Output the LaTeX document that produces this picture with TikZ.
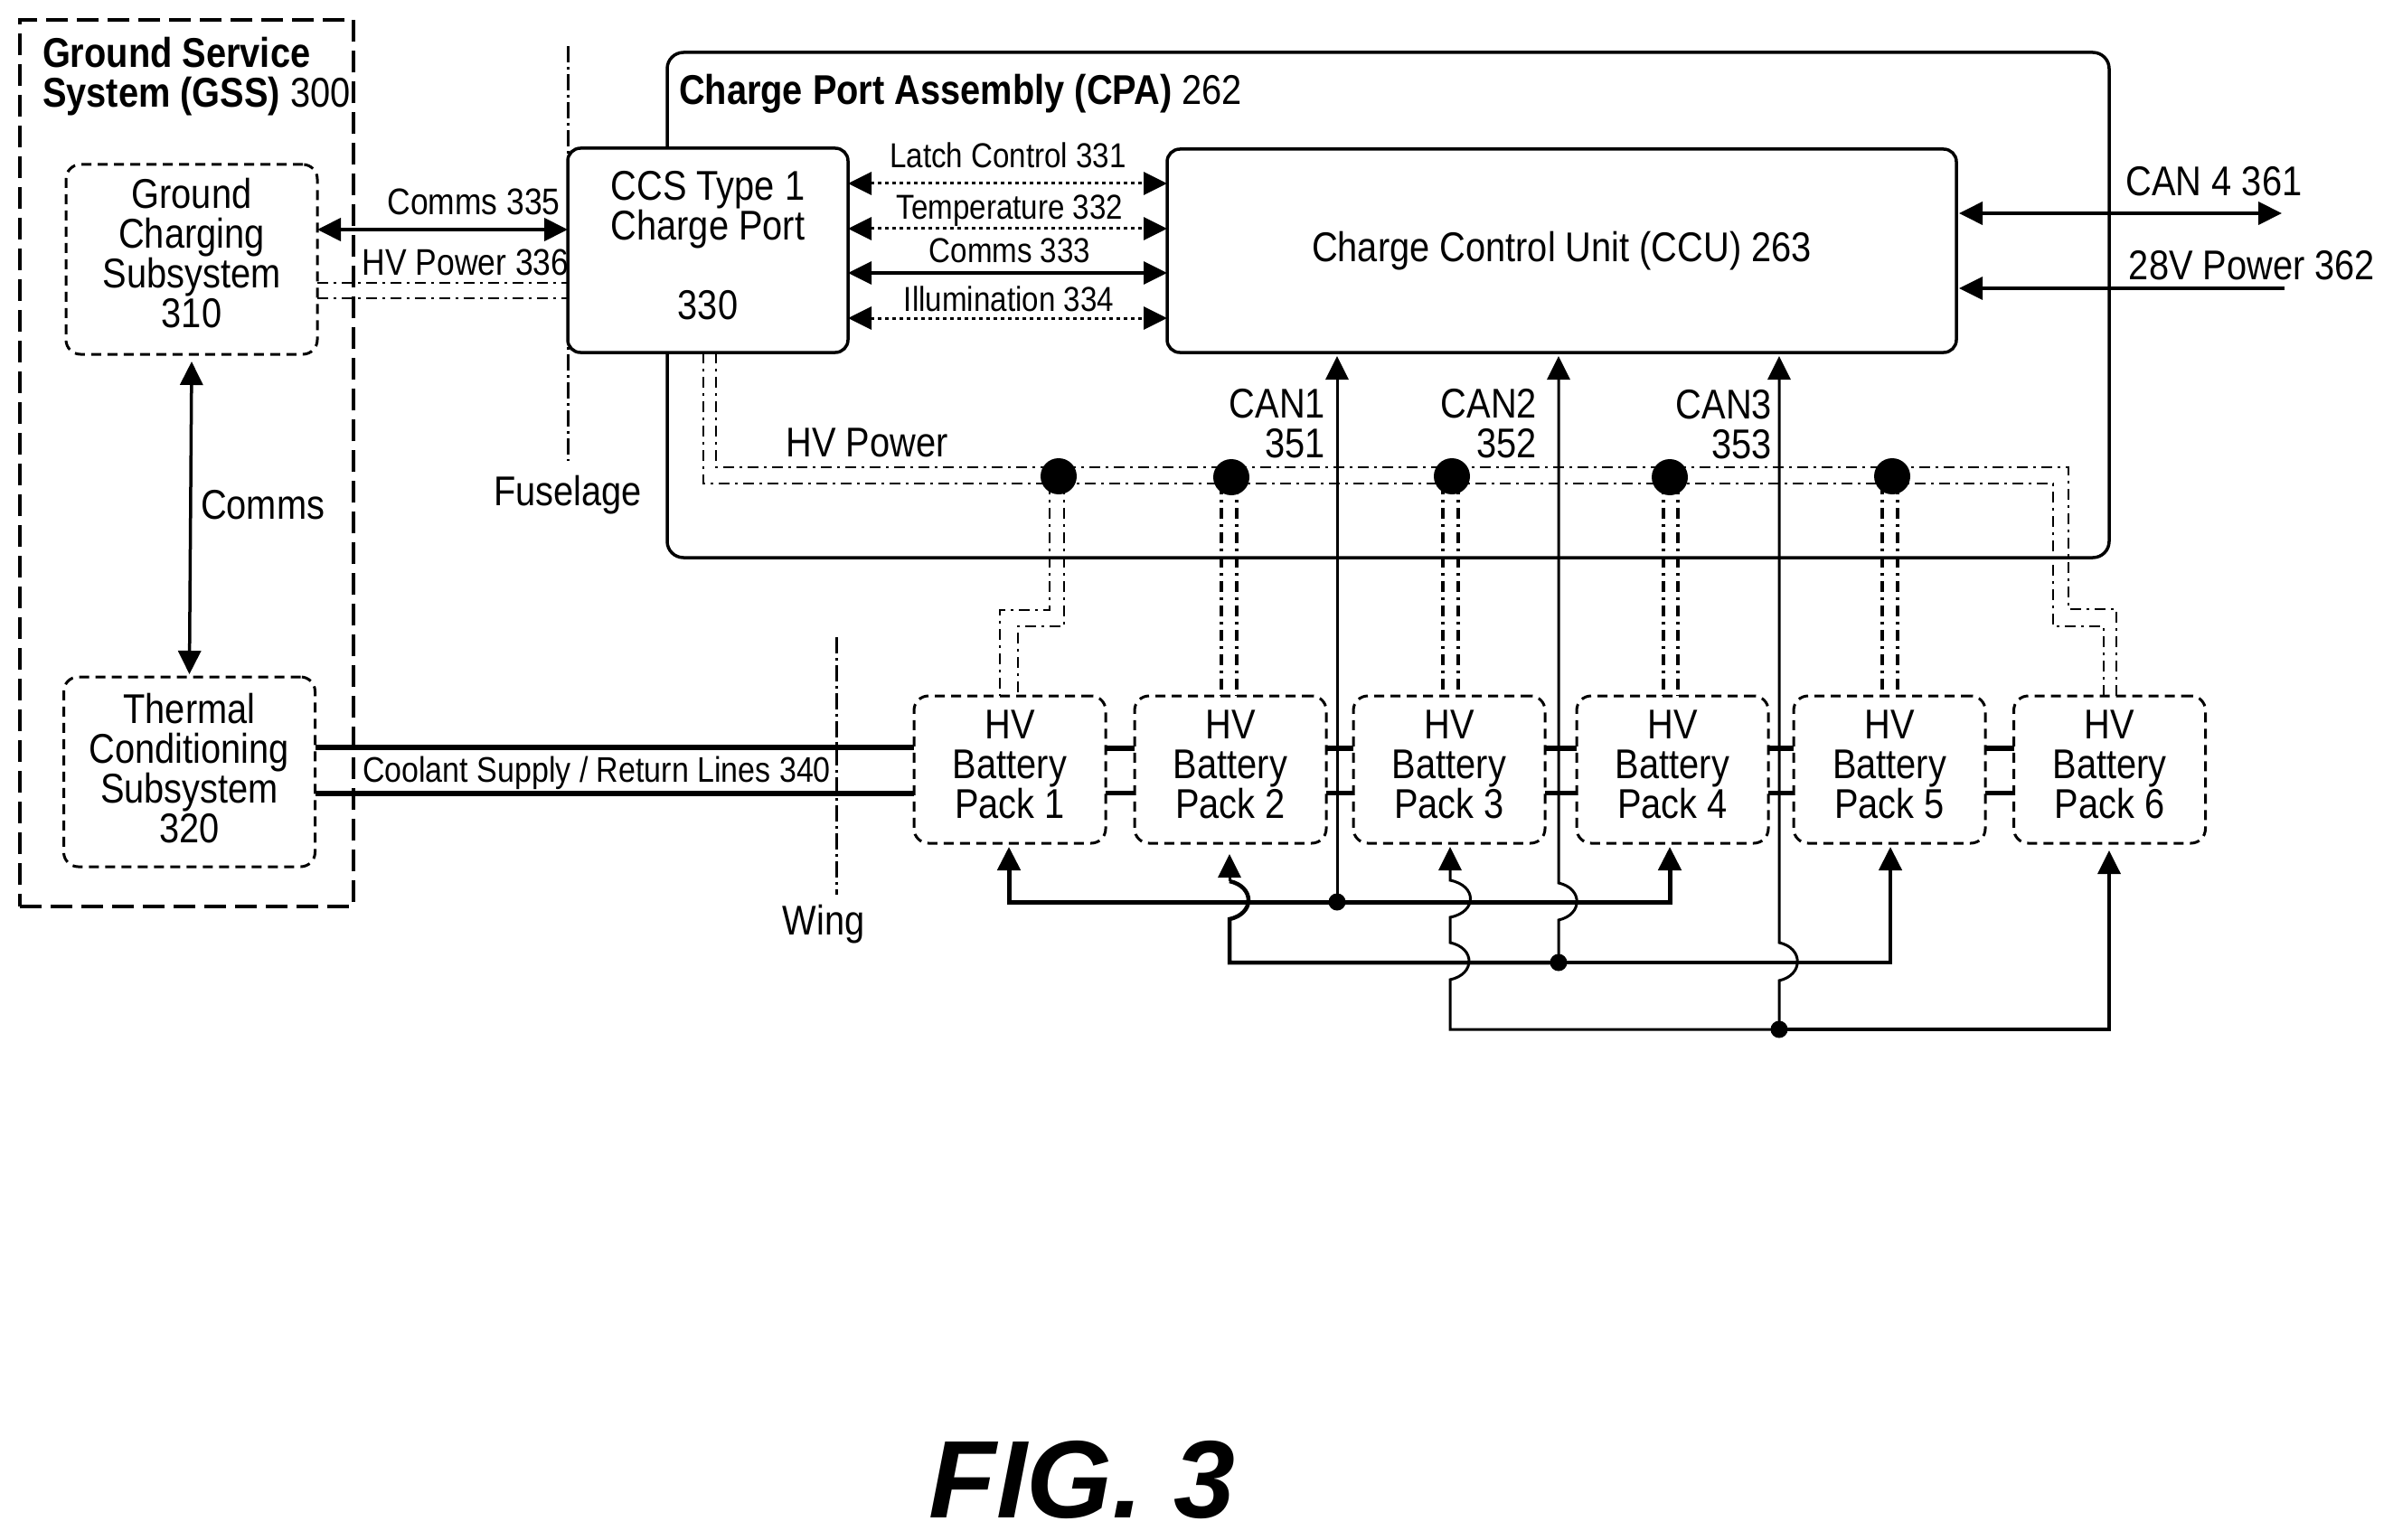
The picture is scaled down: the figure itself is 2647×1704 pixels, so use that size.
\documentclass[tikz,border=0pt]{standalone}
\usepackage{fontspec}
\setmainfont[FakeStretch=0.865]{Liberation Sans}
\newfontfamily\figfont{Liberation Sans}
\usetikzlibrary{arrows.meta,calc}
\tikzset{
 x=1pt,y=-1pt,
 every node/.style={inner sep=0pt,outer sep=0pt,align=center},
 main/.style={font=\fontsize{46}{44}\selectfont},
 small/.style={font=\fontsize{38.3}{40}\selectfont},
 mid/.style={font=\fontsize{41}{44}\selectfont},
 solidbox/.style={draw,line width=3.5pt,rounded corners=14pt,fill=white,main},
 dashbox/.style={draw,line width=3pt,rounded corners=16pt,dash pattern=on 11pt off 7pt,main},
 pack/.style={dashbox,minimum width=212pt,minimum height=163pt,text depth=12pt},
 dbl/.style={line width=4pt,{Triangle[length=26pt,width=25pt]}-{Triangle[length=26pt,width=25pt]}},
 dotarrow/.style={line width=3pt,dash pattern=on 4pt off 4pt,{Triangle[length=26pt,width=25pt]}-{Triangle[length=26pt,width=25pt]}},
 one/.style={line width=3.5pt,-{Triangle[length=26pt,width=25pt]}},
 power/.style={line width=2.8pt,dash pattern=on 12pt off 6pt on 3pt off 6pt},
 drop/.style={line width=3.5pt,dash pattern=on 12pt off 6pt on 3pt off 6pt},
 cut/.style={line width=3pt,dash pattern=on 18pt off 5pt on 3pt off 5pt},
 link/.style={line width=5.5pt},
 bigdot/.style={circle,fill=black,minimum size=40pt},
 smalldot/.style={circle,fill=black,minimum size=19pt},
}
\begin{document}
\begin{tikzpicture}
\useasboundingbox (0,0) rectangle (2647,1704);
% containers
\node[draw,line width=4pt,dash pattern=on 24pt off 10pt,minimum width=369pt,minimum height=981pt] (gss) at (206.5,512.5) {};
\node[draw,line width=3.5pt,rounded corners=18pt,minimum width=1595pt,minimum height=559pt] (cpa) at (1535.5,337.5) {};
\node[anchor=west,font=\fontsize{46}{44}\selectfont,align=left] (gsstitle) at (47,85) {\textbf{Ground Service}\\\textbf{System (GSS)} 300};
\node[anchor=west,main] (cpatitle) at (751,104) {\textbf{Charge Port Assembly (CPA)} 262};
% cut lines
\coordinate (futop) at (628,51);
\coordinate (fubot) at (628,510);
\coordinate (wtop) at (925,705);
\coordinate (wbot) at (925,990);
\draw[cut] (futop) -- (fubot);
\draw[cut] (wtop) -- (wbot);
\node[main] (fuselage) at (628,548) {Fuselage};
\node[main] (wing) at (911,1023) {Wing};
% boxes
\node[dashbox,minimum width=278pt,minimum height=210pt,text depth=14pt] (gcs) at (212,287) {Ground\\Charging\\Subsystem\\310};
\node[dashbox,minimum width=278pt,minimum height=210pt,text depth=9pt] (tcs) at (209.5,854) {Thermal\\Conditioning\\Subsystem\\320};
\node[solidbox,minimum width=310pt,minimum height=226pt,text depth=12pt] (ccs) at (783,277) {CCS Type 1\\Charge Port\\[44pt]330};
\node[solidbox,minimum width=873pt,minimum height=225pt] (ccu) at (1727.5,277.5) {Charge Control Unit (CCU) 263};
\node[pack] (p1) at (1117,851.5) {HV\\Battery\\Pack 1};
\node[pack] (p2) at (1361,851.5) {HV\\Battery\\Pack 2};
\node[pack] (p3) at (1603,851.5) {HV\\Battery\\Pack 3};
\node[pack] (p4) at (1850,851.5) {HV\\Battery\\Pack 4};
\node[pack] (p5) at (2090,851.5) {HV\\Battery\\Pack 5};
\node[pack] (p6) at (2333.5,851.5) {HV\\Battery\\Pack 6};
% ground links
\draw[dbl] (gcs.east |- 0,254) -- (ccs.west |- 0,254);
\node[mid] (l335) at (524,223) {Comms 335};
\draw[power] (gcs.east |- 0,313) -- (ccs.west |- 0,313);
\draw[power] (gcs.east |- 0,330) -- (ccs.west |- 0,330);
\node[mid] (l336) at (515,290) {HV Power 336};
\draw[dbl,line width=3.5pt] ($(gcs.south)+(0,8)$) -- ($(tcs.north)+(0,-3)$);
\node[main,anchor=west] (lcomms) at (222,559) {Comms};
\draw[link] (tcs.east |- 0,827) -- (p1.west |- 0,827);
\draw[link] (tcs.east |- 0,878) -- (p1.west |- 0,878);
\node[font=\fontsize{39.3}{44}\selectfont] (l340) at (660,855) {Coolant Supply / Return Lines 340};
% CCS-CCU
\draw[dotarrow] (ccs.east |- 0,203) -- (ccu.west |- 0,203);
\draw[dotarrow] (ccs.east |- 0,253) -- (ccu.west |- 0,253);
\draw[dbl,line width=3.5pt] (ccs.east |- 0,302) -- (ccu.west |- 0,302);
\draw[dotarrow] (ccs.east |- 0,352) -- (ccu.west |- 0,352);
\node[small] (l331) at (1115,172) {Latch Control 331};
\node[small] (l332) at (1117,233) {Temperature 332};
\node[small] (l333) at (1117,277) {Comms 333};
\node[small] (l334) at (1116,331) {Illumination 334};
% external
\coordinate (can4end) at (2524,236);
\coordinate (v28end) at (2527,319);
\draw[dbl] ($(ccu.east |- can4end)+(3,0)$) -- (can4end);
\draw[one] (v28end) -- ($(ccu.east |- v28end)+(3,0)$);
\node[main] (l361) at (2449,201) {CAN 4 361};
\node[main] (l362) at (2491,294) {28V Power 362};
% HV power bus
\draw[power] (778,390) -- (778,535) -- (2271,535) -- (2271,693) -- (2327,693) -- (2327,770);
\draw[power] (792,390) -- (792,517) -- (2288,517) -- (2288,674) -- (2341,674) -- (2341,770);
\node[bigdot] (d1) at (1171,527) {};
\node[bigdot] (d2) at (1362,528) {};
\node[bigdot] (d3) at (1606,527) {};
\node[bigdot] (d4) at (1847,528) {};
\node[bigdot] (d5) at (2093,527) {};
\draw[power] (1161,535) -- (1161,675) -- (1106,675) -- (1106,770);
\draw[power] (1177,535) -- (1177,693) -- (1126,693) -- (1126,770);
\foreach \d/\p/\a/\b in {d2/p2/1351/1368,d3/p3/1596/1613,d4/p4/1840/1856,d5/p5/2082/2099}{
 \draw[drop] (\a,535) -- (\a,770);
 \draw[drop] (\b,535) -- (\b,770);
}
\node[main] (hvlabel) at (959,490) {HV Power};
% pack links
\foreach \a/\b in {p1/p2,p2/p3,p3/p4,p4/p5,p5/p6}{
 \draw[link] (\a.east |- 0,828) -- (\b.west |- 0,828);
 \draw[link,line width=5pt] (\a.east |- 0,877) -- (\b.west |- 0,877);
}
% CAN labels
\node[main,anchor=east,align=right] (lcan1) at (1466,469) {CAN1\\351};
\node[main,anchor=east,align=right] (lcan2) at (1700,469) {CAN2\\352};
\node[main,anchor=east,align=right] (lcan3) at (1960,470) {CAN3\\353};
% CAN buses
\node[smalldot] (j1) at (1479,998) {};
\node[smalldot] (j2) at (1724,1065) {};
\node[smalldot] (j3) at (1968,1139) {};
\draw[one,line width=3pt] (j1.center) -- (1479,394);
\draw[one,line width=3pt] (j2.center) -- (1724,1018) .. controls (1751,1012) and (1751,983) .. (1724,977) -- (1724,394);
\draw[one,line width=3pt] (j3.center) -- (1968,1085) .. controls (1995,1079) and (1995,1049) .. (1968,1043) -- (1968,394);
\draw[one,line width=5pt] (j1.center) -- (1116,998) -- (1116,937);
\draw[one,line width=5pt] (j1.center) -- (1847,998) -- (1847,937);
\draw[one,line width=4.5pt] (j2.center) -- (2091,1065) -- (2091,937);
\draw[line width=4.5pt] (j2.center) -- (1360,1065) -- (1360,1017) .. controls (1388,1011) and (1388,981) .. (1360,975);
\draw[one,line width=3pt] (1360,975) -- (1360,945);
\draw[one,line width=3.5pt] (j3.center) -- (2333,1139) -- (2333,941);
\draw[one,line width=3pt] (j3.center) -- (1604,1139) -- (1604,1084) .. controls (1632,1078) and (1632,1049) .. (1604,1043) -- (1604,1015) .. controls (1634,1009) and (1634,980) .. (1604,974) -- (1604,937);
% figure label
\node[font=\figfont\fontsize{122}{122}\selectfont\bfseries\itshape] (fig) at (1197,1637) {FIG. 3};
\end{tikzpicture}
\end{document}
